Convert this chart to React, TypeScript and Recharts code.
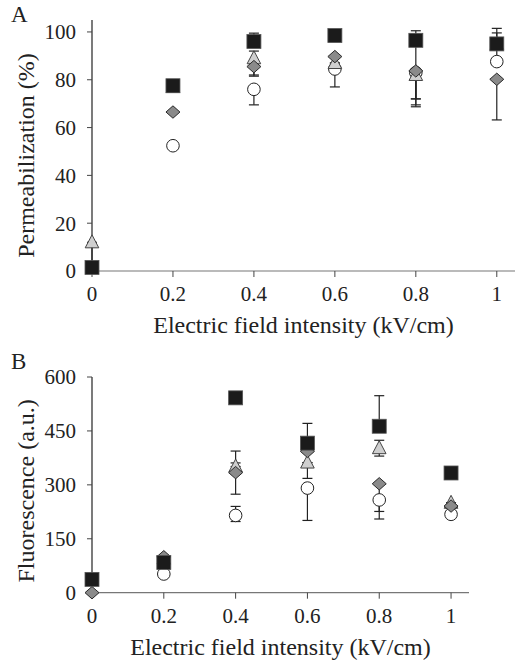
import {
  ScatterChart,
  Scatter,
  XAxis,
  YAxis,
  ErrorBar,
} from "recharts";

const fieldKV = [0, 0.2, 0.4, 0.6, 0.8, 1];

// panel A: permeabilization (%)
const permSquare = [1.5, 77.5, 96, 98.5, 96.5, 95];
const permSquareErr = [[0, 0], [0, 0], [0, 3.5], [0, 0], [27, 4], [0, 6.5]];
const permTriangle = [12, 77, 89, 87, 82, 95];
const permTriangleErr = [[11, 0], [0, 0], [7, 3], [0, 0], [10, 2], [0, 0]];
const permDiamond = [null, 66.5, 85.5, 89.7, 83.7, 80.2];
const permDiamondErr = [[0, 0], [0, 0], [4, 0], [0, 0], [15, 0], [17, 0]];
const permCircle = [null, 52.4, 76, 84.5, 83, 87.6];
const permCircleErr = [[0, 0], [0, 0], [6.5, 0], [7.5, 0], [11, 0], [0, 12]];
const permTicks = [0, 20, 40, 60, 80, 100];

// panel B: fluorescence (a.u.)
const fluoSquare = [37, 84, 542, 416, 463, 333];
const fluoSquareErr = [[0, 0], [0, 0], [6, 6], [0, 55], [0, 85], [0, 0]];
const fluoTriangle = [null, 95, 351, 362, 402, 250];
const fluoTriangleErr = [[0, 0], [0, 0], [0, 10], [0, 0], [22, 22], [0, 0]];
const fluoDiamond = [0, 100, 334, 393, 303, 241];
const fluoDiamondErr = [[0, 0], [0, 0], [60, 60], [75, 0], [98, 0], [0, 0]];
const fluoCircle = [null, 52, 215, 291, 258, 218];
const fluoCircleErr = [[0, 0], [0, 0], [17, 25], [90, 0], [32, 0], [0, 0]];
const fluoTicks = [0, 150, 300, 450, 600];

const xTicks = [0, 0.2, 0.4, 0.6, 0.8, 1];

const FONT = "Liberation Serif";

const toPoints = (ys: (number | null)[], errs: number[][]) =>
  fieldKV
    .map((x, i) => ({ x, y: ys[i], err: errs[i] }))
    .filter((p) => p.y !== null);

const marker = (kind: string) => (props: any) => {
  const { cx, cy } = props;
  if (kind === "square") {
    return <rect x={cx - 7} y={cy - 7} width={14} height={14} fill="#1b1b1b" stroke="#555" strokeWidth={0.8} />;
  }
  if (kind === "diamond") {
    return (
      <polygon
        points={`${cx - 7},${cy} ${cx},${cy - 6.2} ${cx + 7},${cy} ${cx},${cy + 6.2}`}
        fill="#8a8a8a"
        stroke="#2a2a2a"
        strokeWidth={1}
      />
    );
  }
  if (kind === "triangle") {
    return (
      <polygon
        points={`${cx - 6.8},${cy + 5.5} ${cx},${cy - 7.5} ${cx + 6.8},${cy + 5.5}`}
        fill="#cfcfcf"
        stroke="#444"
        strokeWidth={1}
      />
    );
  }
  return <circle cx={cx} cy={cy} r={6.3} fill="#fff" stroke="#222" strokeWidth={1} />;
};

const YTitle = (text: string, shift: number) => (props: any) => {
  const { viewBox } = props;
  const x = 26;
  const y = viewBox.y + viewBox.height / 2 + shift;
  return (
    <text
      x={x}
      y={y}
      transform={`rotate(-90, ${x}, ${y})`}
      textAnchor="middle"
      dominantBaseline="central"
      fontFamily={FONT}
      fontSize={24}
      fill="#222"
    >
      {text}
    </text>
  );
};

const tickStyle = { fontFamily: FONT, fontSize: 21, fill: "#222" };

type PanelProps = {
  letter: string;
  height: number;
  top: number;
  right: number;
  plotH: number;
  xMax: number;
  yDomain: [number, number];
  yTicks: number[];
  yTitle: string;
  yShift: number;
  letterTop: number;
  series: { kind: string; ys: (number | null)[]; errs: number[][] }[];
};

const Panel = (p: PanelProps) => (
  <div style={{ position: "relative", width: 515, height: p.height }}>
    <div
      style={{
        position: "absolute",
        left: 11,
        top: p.letterTop,
        fontFamily: FONT,
        fontSize: 23,
        color: "#222",
      }}
    >
      {p.letter}
    </div>
    <ScatterChart
      width={515}
      height={p.height}
      style={{ fontFamily: FONT }}
      margin={{ top: p.top, right: p.right, bottom: p.height - p.top - 62 - p.plotH, left: 0 }}
    >
      <XAxis
        type="number"
        dataKey="x"
        domain={[0, p.xMax]}
        ticks={xTicks}
        tickFormatter={(v) => String(v)}
        height={62}
        tickSize={6}
        tickMargin={9}
        axisLine={{ stroke: "#777", strokeWidth: 1.2 }}
        tickLine={{ stroke: "#444" }}
        tick={tickStyle}
        label={{
          value: "Electric field intensity (kV/cm)",
          position: "insideBottom",
          offset: 0,
          style: { fontFamily: FONT, fontSize: 24, fill: "#222" },
        }}
      />
      <YAxis
        type="number"
        dataKey="y"
        domain={p.yDomain}
        ticks={p.yTicks}
        width={92}
        tickSize={5}
        tickMargin={11}
        axisLine={{ stroke: "#222", strokeWidth: 1.2 }}
        tickLine={{ stroke: "#444" }}
        tick={tickStyle}
        label={{ content: YTitle(p.yTitle, p.yShift) }}
      />
      {p.series.map((s) => (
        <Scatter
          key={s.kind}
          data={toPoints(s.ys, s.errs)}
          shape={marker(s.kind)}
          isAnimationActive={false}
        >
          <ErrorBar dataKey="err" direction="y" width={5} stroke="#222" strokeWidth={1.2} />
        </Scatter>
      ))}
    </ScatterChart>
  </div>
);

export default function App() {
  return (
    <div style={{ position: "absolute", left: 0, top: 0, width: 515, height: 664, background: "#fff", fontFamily: FONT }}>
      <Panel
        letter="A"
        letterTop={2}
        height={340}
        top={20}
        right={0}
        plotH={251}
        xMax={1.045}
        yDomain={[0, 105]}
        yTicks={permTicks}
        yTitle="Permeabilization (%)"
        yShift={10}
        series={[
          { kind: "circle", ys: permCircle, errs: permCircleErr },
          { kind: "triangle", ys: permTriangle, errs: permTriangleErr },
          { kind: "diamond", ys: permDiamond, errs: permDiamondErr },
          { kind: "square", ys: permSquare, errs: permSquareErr },
        ]}
      />
      <Panel
        letter="B"
        letterTop={9}
        height={324}
        top={37}
        right={46}
        plotH={215.7}
        xMax={1.05}
        yDomain={[0, 600]}
        yTicks={fluoTicks}
        yTitle="Fluorescence (a.u.)"
        yShift={6}
        series={[
          { kind: "circle", ys: fluoCircle, errs: fluoCircleErr },
          { kind: "triangle", ys: fluoTriangle, errs: fluoTriangleErr },
          { kind: "diamond", ys: fluoDiamond, errs: fluoDiamondErr },
          { kind: "square", ys: fluoSquare, errs: fluoSquareErr },
        ]}
      />
    </div>
  );
}
